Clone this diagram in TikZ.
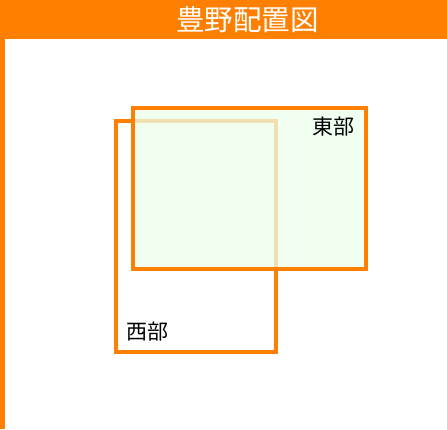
\documentclass[tikz,border=0pt]{standalone}
\usepackage{fontspec}
\newfontfamily\cjk{Noto Sans CJK JP}
\definecolor{frameorange}{RGB}{255,128,0}
\definecolor{paleGreen}{RGB}{235,255,235}
\begin{document}
\begin{tikzpicture}[x=1pt,y=-1pt,
  area/.style={draw=frameorange,line width=4pt},
  lbl/.style={font=\cjk\fontsize{21}{21}\selectfont,inner sep=0pt,anchor=center}]
\useasboundingbox (0,0) rectangle (447,429);
\fill[white] (0,0) rectangle (447,429);
\fill[frameorange] (0,0) rectangle (447,39);
\fill[frameorange] (0,0) rectangle (5,429);
\node[font=\cjk\fontsize{28.5}{28.5}\selectfont,text=white,inner sep=0pt] (title) at (247.5,20) {豊野配置図};
\draw[area,fill=white] (116,121) rectangle (276,352);
\node[lbl] (west) at (147.5,332) {西部};
\draw[area,fill=paleGreen,fill opacity=0.75] (133,108) rectangle (366,269);
\node[lbl] (east) at (333.5,127) {東部};
\end{tikzpicture}
\end{document}
